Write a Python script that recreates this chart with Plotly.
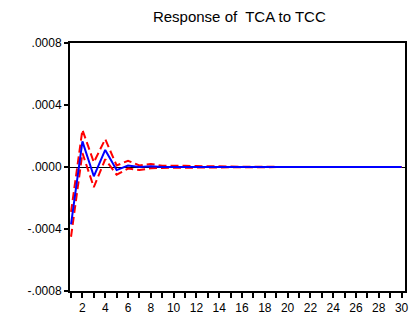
import plotly.graph_objects as go

periods = list(range(1, 31))
response = [-0.00037, 0.000165, -0.00006, 0.00011, -0.00002, 0.00001, 0.0, 0.000005,
            0.0, 0.0, 0.0, 0.0, 0.0, 0.0, 0.0, 0.0, 0.0, 0.0, 0.0, 0.0,
            0.0, 0.0, 0.0, 0.0, 0.0, 0.0, 0.0, 0.0, 0.0, 0.0]
upper = [-0.00029, 0.00024, 0.00003, 0.00018, 0.00001, 0.00004, 0.00001, 0.00002,
         0.000008, 0.00001, 0.000008, 0.000006, 0.000004, 0.000003, 0.000002, 0.000002,
         0.000001, 0.000001, 0.000001, 0.000001, 0.0, 0.0, 0.0, 0.0, 0.0, 0.0, 0.0, 0.0, 0.0, 0.0]
lower = [-0.00045, 0.00009, -0.00013, 0.00005, -0.00005, -0.00001, -0.00002, -0.000008,
         -0.000006, -0.000006, -0.000004, -0.000004, -0.000003, -0.000002, -0.000002, -0.000001,
         -0.000001, -0.000001, 0.0, 0.0, 0.0, 0.0, 0.0, 0.0, 0.0, 0.0, 0.0, 0.0, 0.0, 0.0]
y_tick_vals = [0.0008, 0.0004, 0.0, -0.0004, -0.0008]
y_tick_labels = [".0008", ".0004", ".0000", "-.0004", "-.0008"]

fig = go.Figure()
fig.add_trace(go.Scatter(x=periods, y=upper, mode="lines",
                         line=dict(color="#ff0000", width=2, dash="8px,4px"), showlegend=False))
fig.add_trace(go.Scatter(x=periods, y=lower, mode="lines",
                         line=dict(color="#ff0000", width=2, dash="8px,4px"), showlegend=False))
fig.add_trace(go.Scatter(x=periods, y=response, mode="lines",
                         line=dict(color="#0000ff", width=2), showlegend=False))

fig.update_layout(
    width=417, height=323,
    margin=dict(l=70, r=8, t=43, b=26),
    paper_bgcolor="white", plot_bgcolor="white",
    font=dict(family="Liberation Sans, Arial", size=12, color="black"),
    title=dict(text="Response of  TCA to TCC", x=0.574, xanchor="center",
               y=0.947, yanchor="middle", font=dict(size=15, color="black")),
)
fig.update_xaxes(range=[0.91, 30.3], tickmode="array", tickvals=periods,
                 ticktext=["" if p % 2 else str(p) for p in periods],
                 showgrid=False, zeroline=False, showline=True, linecolor="black",
                 linewidth=2, mirror=True, ticks="outside", ticklen=5, tickwidth=1.5,
                 tickcolor="black", tickfont=dict(size=12))
fig.update_yaxes(range=[-0.0008, 0.0008], tickmode="array", tickvals=y_tick_vals,
                 ticktext=y_tick_labels, showgrid=False, zeroline=True, zerolinecolor="black",
                 zerolinewidth=1, showline=True, linecolor="black", linewidth=2, mirror=True,
                 ticks="outside", ticklen=4, tickwidth=1.5, tickcolor="black",
                 tickfont=dict(size=12))

fig.write_html("out.html")
